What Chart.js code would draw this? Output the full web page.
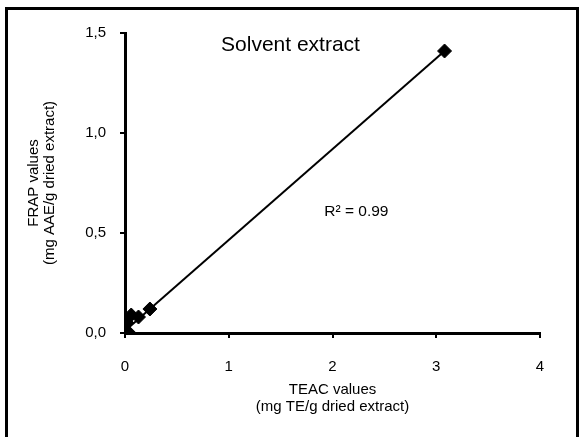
<!DOCTYPE html>
<html>
<head>
<meta charset="utf-8">
<script src="https://cdn.jsdelivr.net/npm/chart.js@4"></script>
<style>
  html, body { margin: 0; padding: 0; background: #fff; }
  #wrap { position: relative; width: 579px; height: 437px; overflow: hidden; }
  #chart { position: absolute; left: 0; top: 0; }
  /* open frame around the figure (no bottom edge) */
  #frame {
    position: absolute; left: 5px; top: 7px; width: 568px; height: 460px;
    border-top: 3px solid #000; border-left: 3px solid #000; border-right: 3px solid #000;
    pointer-events: none;
  }
</style>
</head>
<body>
<div id="wrap">
  <canvas id="chart" width="579" height="437"></canvas>
  <div id="frame"></div>
</div>
<script>
// values
const teacValues = [0.02, 0.04, 0.06, 0.13, 0.24, 3.08];
const frapValues = [0.05, 0.00, 0.09, 0.08, 0.12, 1.41];
// trendline end points (as drawn)
const trendTeac = [0.02, 3.08];
const trendFrap = [0.02, 1.41];
const xTickValues = [0, 1, 2, 3, 4];
const yTickValues = [0, 0.5, 1.0, 1.5];

const chartTitle = "Solvent extract";
const r2Label = "R\u00B2 = 0.99";

document.addEventListener("DOMContentLoaded", function () {
  const fontFamily = "'Liberation Sans', Arial, sans-serif";

  // plot area edges in canvas pixels
  const plotLeft = 125;
  const plotRight = 540;
  const plotTop = 33;
  const plotBottom = 333;

  // free text inside the plot: title and R² note
  const annotations = {
    id: "annotations",
    afterDraw: (chart) => {
      const ctx = chart.ctx;
      const xs = chart.scales.x;
      const ys = chart.scales.y;
      ctx.save();
      ctx.fillStyle = "#000";
      ctx.textAlign = "center";
      ctx.textBaseline = "middle";
      ctx.font = `21px ${fontFamily}`;
      ctx.fillText(chartTitle, xs.getPixelForValue(1.595), ys.getPixelForValue(1.44));
      ctx.font = `15.5px ${fontFamily}`;
      ctx.fillText(r2Label, xs.getPixelForValue(2.23), ys.getPixelForValue(0.605));
      ctx.restore();
    },
  };

  const points = teacValues.map((x, i) => ({ x: x, y: frapValues[i] }));
  const trend = trendTeac.map((x, i) => ({ x: x, y: trendFrap[i] }));

  const axisCommon = {
    type: "linear",
    grid: {
      display: true,
      drawOnChartArea: false,
      drawTicks: true,
      tickLength: 5,
      color: "#000",
      lineWidth: 2,
    },
    border: { display: true, color: "#000", width: 3 },
  };

  new Chart(document.getElementById("chart").getContext("2d"), {
    type: "scatter",
    data: {
      datasets: [
        {
          type: "line",
          data: trend,
          borderColor: "#000",
          borderWidth: 2,
          pointRadius: 0,
          fill: false,
          order: 2,
        },
        {
          data: points,
          pointStyle: "rectRot",
          pointRadius: 7,
          pointBackgroundColor: "#000",
          pointBorderColor: "#000",
          pointBorderWidth: 1,
          order: 1,
        },
      ],
    },
    options: {
      responsive: false,
      animation: false,
      layout: { padding: { left: 0, top: plotTop, right: 579 - plotRight, bottom: 0 } },
      plugins: { legend: { display: false }, tooltip: { enabled: false } },
      scales: {
        x: {
          ...axisCommon,
          position: "bottom",
          min: xTickValues[0],
          max: xTickValues[xTickValues.length - 1],
          afterBuildTicks: (s) => { s.ticks = xTickValues.map((v) => ({ value: v })); },
          afterFit: (s) => { s.height = 437 - plotBottom; },
          ticks: {
            color: "#000",
            font: { family: fontFamily, size: 15 },
            padding: 20,
            maxRotation: 0,
            callback: (v) => String(v),
          },
          title: {
            display: true,
            text: ["TEAC values", "(mg TE/g dried extract)"],
            color: "#000",
            font: { family: fontFamily, size: 15, lineHeight: 17 / 15 },
            padding: { top: 0, bottom: 22 },
          },
        },
        y: {
          ...axisCommon,
          position: "left",
          min: yTickValues[0],
          max: yTickValues[yTickValues.length - 1],
          afterBuildTicks: (s) => { s.ticks = yTickValues.map((v) => ({ value: v })); },
          afterFit: (s) => { s.width = plotLeft; },
          ticks: {
            color: "#000",
            font: { family: fontFamily, size: 15 },
            padding: 14,
            callback: (v) => Number(v).toFixed(1).replace(".", ","),
          },
          title: {
            display: true,
            text: ["FRAP values", "(mg AAE/g dried extract)"],
            color: "#000",
            font: { family: fontFamily, size: 15, lineHeight: 16 / 15 },
            padding: { top: 26, bottom: 0 },
          },
        },
      },
    },
    plugins: [annotations],
  });
});
</script>
</body>
</html>
